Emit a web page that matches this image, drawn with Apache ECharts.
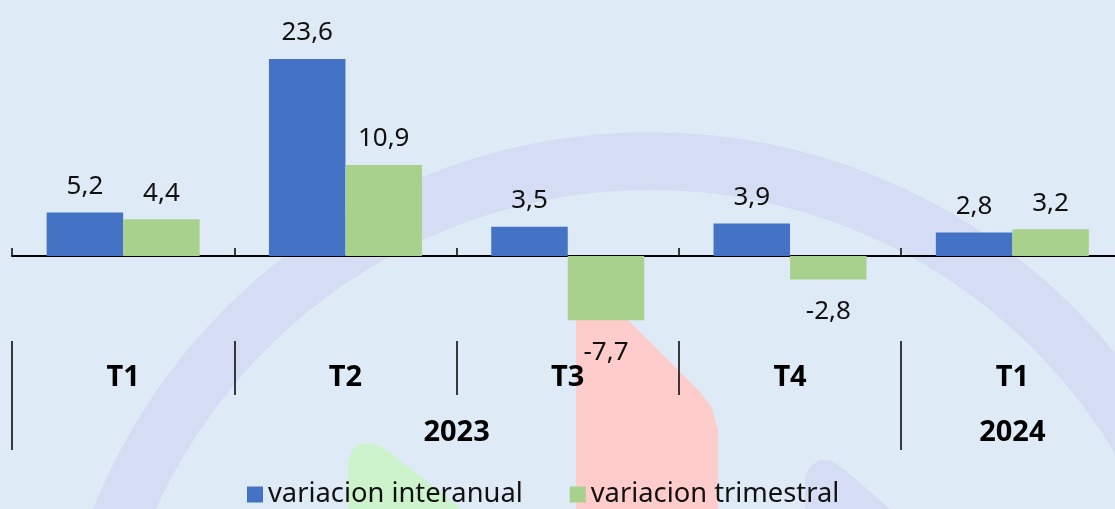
<!DOCTYPE html>
<html>
<head>
<meta charset="utf-8">
<script src="https://cdn.jsdelivr.net/npm/echarts@6/dist/echarts.min.js"></script>
<style>html,body{margin:0;padding:0;background:#DEEAF6;}#c{width:1115px;height:509px;}</style>
</head>
<body>
<div id="c"></div>
<script>
var categories = ['T1', 'T2', 'T3', 'T4', 'T1'];
var interanual = [5.2, 23.6, 3.5, 3.9, 2.8];
var trimestral = [4.4, 10.9, -7.7, -2.8, 3.2];
var yearLabels = ['2023', '2024'];
var yearCenters = [2, 4.5];     // in category units
var yearBounds = [0, 4, 5];     // in category units
var seriesNames = ['variacion interanual', 'variacion trimestral'];

var FONT = '"Noto Sans", "Open Sans", sans-serif';
var chart = echarts.init(document.getElementById('c'));

function fmt(p) { return String(p.value).replace('.', ','); }

var option = {
  backgroundColor: '#DEEAF6',
  animation: false,
  textStyle: { fontFamily: FONT },
  graphic: [
    { type: 'ring', z: -10, silent: true, shape: { cx: 650, cy: 732, r: 600, r0: 542 }, style: { fill: '#D5DDF5' } },
    { type: 'polygon', z: -9, silent: true, shape: { points: [[576,509],[576,318],[626,318],[700,392],[712,408],[718,430],[718,509]] }, style: { fill: '#FFCCCC' } },
    { type: 'polygon', z: -9, silent: true, shape: { points: [[348,509],[348,462],[352,450],[360,444],[372,443],[384,448],[462,509]] }, style: { fill: '#CDF3CD' } },
    { type: 'polygon', z: -9, silent: true, shape: { points: [[805,509],[805,478],[810,466],[820,460],[832,461],[845,470],[890,509]] }, style: { fill: '#D5DDF5' } }
  ],
  grid: { left: 12, top: 5.5, width: 1111.5, height: 334, containLabel: false, outerBoundsMode: 'none' },
  legend: {
    data: seriesNames,
    left: 247, top: 481, padding: 0,
    itemWidth: 16, itemHeight: 16, itemGap: 47,
    icon: 'rect',
    textStyle: { color: '#111', fontSize: 27.3, fontFamily: FONT }
  },
  xAxis: [
    {
      type: 'category', data: categories, position: 'bottom',
      axisLine: { show: true, onZero: true, lineStyle: { color: '#000', width: 2 } },
      axisTick: { show: true, inside: true, length: 8, lineStyle: { color: '#000', width: 1.5 } },
      axisLabel: { show: false },
      splitLine: { show: false }
    },
    {
      type: 'category', data: categories, position: 'bottom', offset: 1.5,
      axisLine: { show: false, onZero: false },
      axisTick: { show: true, length: 54, lineStyle: { color: '#000', width: 1.5 } },
      axisLabel: { show: true, margin: 22, color: '#000', fontSize: 29, fontWeight: 'bold', fontFamily: FONT },
      splitLine: { show: false }
    },
    {
      type: 'value', min: 0, max: 5, position: 'bottom', offset: 1.5,
      axisLine: { show: false, onZero: false },
      axisTick: { show: true, length: 109, customValues: yearBounds, lineStyle: { color: '#000', width: 1.5 } },
      axisLabel: {
        show: true, margin: 77, color: '#000', fontSize: 29, fontWeight: 'bold', fontFamily: FONT,
        customValues: yearCenters,
        formatter: function (v) { var i = yearCenters.indexOf(v); return i >= 0 ? yearLabels[i] : ''; }
      },
      splitLine: { show: false }
    }
  ],
  yAxis: { type: 'value', min: -10, max: 30, show: false, splitLine: { show: false } },
  series: [
    { name: seriesNames[0], type: 'bar', xAxisIndex: 0, data: interanual, barWidth: 76.5, barGap: '0%',
      itemStyle: { color: '#4472C4' },
      label: { show: true, position: 'top', distance: 13, color: '#111', fontSize: 26, fontFamily: FONT, formatter: fmt } },
    { name: seriesNames[1], type: 'bar', xAxisIndex: 0, barWidth: 76.5, barGap: '0%',
      itemStyle: { color: '#A9D18E' },
      data: trimestral.map(function (v) {
        return v < 0 ? { value: v, label: { position: 'bottom', distance: 19 } } : v;
      }),
      label: { show: true, position: 'top', distance: 13, color: '#111', fontSize: 26, fontFamily: FONT, formatter: fmt } }
  ]
};
chart.setOption(option);
</script>
</body>
</html>
